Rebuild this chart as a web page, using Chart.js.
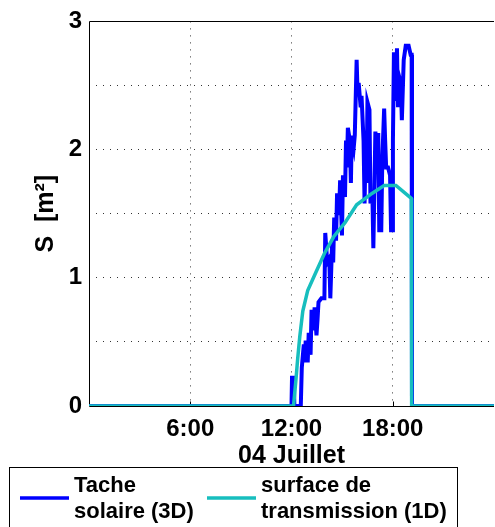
<!DOCTYPE html>
<html>
<head>
<meta charset="utf-8">
<script src="https://cdn.jsdelivr.net/npm/chart.js@4.4.0/dist/chart.umd.min.js"></script>
<style>
  html, body { margin: 0; padding: 0; background: #fff; }
  #cadre { width: 495px; height: 527px; overflow: hidden; }
</style>
</head>
<body>
<div id="cadre"><canvas id="graphique" width="503" height="527"></canvas></div>
<script>
// heures (temps solaire) et surfaces en m2
const heuresTache = [0, 12.0, 12.03, 12.14, 12.17, 12.55, 12.61, 12.73, 12.79, 12.84, 12.96, 13.02, 13.13, 13.19, 13.31,
  13.37, 13.48, 13.54, 13.60, 13.77, 13.95, 14.00, 14.12, 14.24, 14.30, 14.41, 14.47, 14.53, 14.64, 14.70, 14.82,
  14.88, 14.99, 15.05, 15.17, 15.23, 15.28, 15.34, 15.46, 15.52, 15.57, 15.69, 15.75, 15.86, 15.92, 15.98, 16.10,
  16.15, 16.27, 16.33, 16.39, 16.45, 16.50, 16.62, 16.68, 16.79, 16.85, 16.91, 16.97, 17.09, 17.14, 17.20, 17.32,
  17.38, 17.49, 17.55, 17.61, 17.72, 17.84, 17.90, 17.96, 18.01, 18.07, 18.19, 18.25, 18.31, 18.36, 18.48, 18.54,
  18.65, 18.77, 18.94, 19.06, 19.12, 19.14, 24];
const surfaceTache = [0, 0, 0.22, 0.22, 0, 0, 0.30, 0.48, 0.34, 0.51, 0.34, 0.57, 0.40, 0.75, 0.59,
  0.77, 0.55, 0.67, 0.81, 0.84, 0.84, 1.35, 1.12, 1.15, 0.84, 1.29, 1.12, 1.47, 1.29, 1.66, 1.49,
  1.76, 1.33, 1.80, 1.63, 2.07, 1.86, 2.17, 2.07, 1.74, 2.11, 2.02, 2.11, 2.70, 2.42, 2.52, 2.33,
  2.42, 2.07, 1.58, 2.00, 1.74, 2.37, 2.31, 1.58, 1.68, 1.23, 1.68, 2.14, 2.00, 2.13, 1.37, 1.37,
  1.92, 2.32, 2.07, 1.86, 1.86, 1.80, 1.37, 1.37, 2.07, 2.76, 2.38, 2.79, 2.33, 2.58, 2.52, 2.23,
  2.70, 2.81, 2.81, 2.74, 2.74, 0, 0];

const heuresTransmission = [0, 12.12, 12.26, 12.36, 12.49, 12.67, 12.96, 13.40, 13.95, 14.50, 15.17, 15.86, 16.79, 17.49, 18.19, 19.10, 19.12, 24];
const surfaceTransmission = [0, 0, 0.20, 0.36, 0.54, 0.74, 0.90, 1.03, 1.19, 1.32, 1.43, 1.57, 1.66, 1.72, 1.72, 1.62, 0, 0];

const ticksHeures = [6, 12, 18];
const ticksSurface = [0, 1, 2, 3];
const nomsSeries = [['Tache', 'solaire (3D)'], ['surface de', 'transmission (1D)']];
const titreX = '04 Juillet';
const titreY = 'S  [m²]';

const police = "'Liberation Sans', Arial, Helvetica, sans-serif";
const pointille = 'rgba(0,0,0,0.8)';

function points(xs, ys) {
  return xs.map((x, i) => ({ x: x, y: ys[i] }));
}

// cadre, graduations et legende a la maniere matlab
const habillage = {
  id: 'habillage',
  beforeDatasetsDraw(chart) {
    const { ctx, chartArea: a, scales } = chart;
    const haut = Math.round(a.top) + 0.5;
    const gauche = Math.round(a.left) + 0.5;
    const bas = Math.round(a.bottom) + 0.5;
    ctx.save();
    ctx.strokeStyle = '#000';
    ctx.lineWidth = 1;
    ctx.setLineDash([]);
    ctx.beginPath();
    ctx.moveTo(a.right, haut);
    ctx.lineTo(gauche, haut);
    ctx.lineTo(gauche, bas);
    ctx.lineTo(a.right, bas);
    ticksHeures.forEach(h => {
      const x = Math.round(scales.x.getPixelForValue(h)) + 0.5;
      ctx.moveTo(x, bas);
      ctx.lineTo(x, bas - 5);
    });
    ctx.stroke();
    ctx.restore();
  },
  afterDraw(chart) {
    const ctx = chart.ctx;
    const depart = [20, 207];
    ctx.save();
    ctx.strokeStyle = '#000';
    ctx.lineWidth = 1;
    ctx.strokeRect(9.5, 467.5, 448, 80);
    ctx.font = 'bold 22px ' + police;
    ctx.fillStyle = '#000';
    ctx.textBaseline = 'alphabetic';
    chart.data.datasets.forEach((ds, i) => {
      const x0 = depart[i];
      ctx.strokeStyle = ds.borderColor;
      ctx.lineWidth = 3.5;
      ctx.beginPath();
      ctx.moveTo(x0, 498);
      ctx.lineTo(x0 + 49, 498);
      ctx.stroke();
      ctx.fillText(nomsSeries[i][0], x0 + 54, 492);
      ctx.fillText(nomsSeries[i][1], x0 + 54, 518);
    });
    ctx.restore();
  }
};

const ctx = document.getElementById('graphique');

new Chart(ctx, {
  type: 'line',
  data: {
    datasets: [{
      label: nomsSeries[0].join(' '),
      data: points(heuresTache, surfaceTache),
      borderColor: '#0000FF',
      borderWidth: 4,
      pointRadius: 0,
      tension: 0,
      order: 1
    }, {
      label: nomsSeries[1].join(' '),
      data: points(heuresTransmission, surfaceTransmission),
      borderColor: '#17BEBE',
      borderWidth: 3.5,
      pointRadius: 0,
      tension: 0,
      order: 0
    }]
  },
  options: {
    responsive: false,
    animation: false,
    devicePixelRatio: 1,
    layout: { padding: { top: 21, right: 1, left: 0, bottom: 56 } },
    plugins: {
      legend: { display: false },
      tooltip: { enabled: false }
    },
    scales: {
      x: {
        type: 'linear',
        min: 0,
        max: 24,
        afterFit: s => { s.height = 65; },
        ticks: {
          stepSize: 6,
          padding: 9,
          maxRotation: 0,
          autoSkip: false,
          color: '#000',
          font: { family: police, size: 24, weight: 'bold' },
          callback: v => ticksHeures.includes(v) ? v + ':00' : ''
        },
        grid: {
          drawTicks: false,
          color: c => (c.tick && ticksHeures.includes(c.tick.value)) ? pointille : 'rgba(0,0,0,0)'
        },
        border: { display: false, dash: [1, 6] },
        title: {
          display: true,
          text: titreX,
          color: '#000',
          padding: { top: 0, bottom: 0 },
          font: { family: police, size: 25, weight: 'bold' }
        }
      },
      y: {
        min: 0,
        max: 3,
        afterFit: s => { s.width = 89; },
        ticks: {
          stepSize: 0.5,
          padding: 7,
          color: '#000',
          font: { family: police, size: 24, weight: 'bold' },
          callback: v => ticksSurface.includes(v) ? String(v) : ''
        },
        grid: {
          drawTicks: false,
          color: c => (c.tick && c.tick.value > 0 && c.tick.value < 3) ? pointille : 'rgba(0,0,0,0)'
        },
        border: { display: false, dash: [1, 6] },
        title: {
          display: true,
          text: titreY,
          color: '#000',
          padding: { top: 31, bottom: 0 },
          font: { family: police, size: 25, weight: 'bold' }
        }
      }
    }
  },
  plugins: [habillage]
});
</script>
</body>
</html>
